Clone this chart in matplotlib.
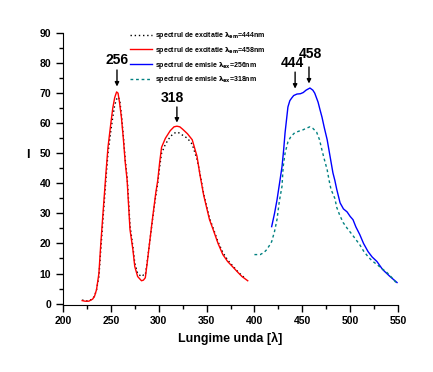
import matplotlib
matplotlib.use("Agg")
import matplotlib.pyplot as plt
from matplotlib.ticker import MultipleLocator

plt.rcParams['font.family'] = ['Liberation Sans', 'DejaVu Sans']
plt.rcParams['font.weight'] = 'bold'
plt.rcParams['mathtext.default'] = 'bf'

# excitation spectrum, lambda_em = 458 nm (red)
x_exc458 = [220, 223, 227, 231, 233, 235, 237.5, 239.5, 242, 245, 247, 250, 252, 254,
            256, 257.5, 259, 261, 263, 265, 267, 268, 270, 273, 275, 278, 282, 284,
            286, 288, 290, 293, 295, 297, 299, 301, 303, 307, 312, 316, 319, 322,
            325, 330, 335, 340, 343, 347, 350, 353, 357, 362, 367, 372, 378, 383,
            387, 393]
y_exc458 = [1.0, 0.8, 0.8, 1.5, 2.5, 4.6, 10, 20, 31, 44, 52, 60, 65, 68.5,
            70.4, 70, 67, 62, 55, 47, 41, 35.5, 24.6, 18, 12.3, 9, 7.6, 7.8,
            8.6, 13.6, 19, 27, 32, 37, 41, 47, 52, 55, 57.5, 58.8, 59, 58.8,
            58, 56.5, 54.5, 49, 43, 36, 32, 28, 24.5, 20, 16.3, 14, 12, 10.3,
            9, 7.6]

# excitation spectrum, lambda_em = 444 nm (black dotted)
x_exc444 = [220, 223, 227, 231, 233, 235, 237.5, 239.5, 242, 245, 247, 250, 252, 254,
            256, 258, 259.5, 261, 263, 265, 267, 268, 270, 273, 275, 278, 282, 284,
            286, 288, 290, 293, 295, 297, 299, 301, 303, 307, 312, 316, 320, 325,
            330, 335, 340, 343, 347, 350, 353, 357, 362, 367, 372, 378, 383, 387,
            390]
y_exc444 = [1.2, 0.9, 0.9, 1.6, 2.6, 4.5, 9, 18, 29, 42, 50, 57.5, 62, 66,
            68, 68.7, 67, 63, 56, 48, 42, 37, 26, 19, 13.5, 10, 9, 9.5,
            9.5, 14, 19, 26.5, 31.5, 36, 40, 45.5, 50, 53, 55.5, 56.7, 57, 56,
            55, 53, 48, 43.5, 36.5, 32.5, 28.5, 25, 20.5, 17, 14.5, 12.3, 10.5, 9.3,
            8.5]

# emission spectrum, lambda_ex = 256 nm (blue)
x_em256 = [418, 421, 423.6, 426.7, 428.8, 430.5, 432, 435, 437, 439, 441, 444.5, 448,
           451, 454, 458, 461, 463, 466.5, 468.5, 470.6, 473, 476, 479, 482, 484,
           486, 489.5, 493, 496.8, 500, 503, 506, 510, 514, 518.7, 523, 528, 534,
           541.7, 549]
y_em256 = [25.6, 30, 34.5, 41, 45.5, 51, 56.8, 65.4, 67.5, 68.4, 69.2, 69.7, 69.8,
           70.2, 71, 71.7, 71, 70, 67, 64.5, 62, 58.5, 54.5, 49, 43.5, 41,
           38, 33.5, 31.5, 30.5, 29, 27.9, 25.5, 23, 20, 17.3, 15.5, 14, 11.3,
           9, 7]

# emission spectrum, lambda_ex = 318 nm (teal dotted)
x_em318 = [400, 403, 406, 410, 413, 416, 418, 421, 423.6, 426, 428.8, 430, 432, 435,
           438, 442, 446, 450.8, 454, 458, 461, 465, 468, 470.6, 473, 476, 478,
           480, 484, 486, 489, 492.6, 497, 502, 506, 510, 514, 518.7, 523, 528,
           533, 538.6, 544, 549]
y_em318 = [16.3, 16.3, 16.3, 17, 18, 19.5, 20.6, 24, 28, 34, 39, 45.5, 50, 53.8,
           55.5, 56.8, 57.3, 57.8, 58.3, 58.8, 58.3, 57, 54.5, 51, 48, 44.5, 41,
           38, 35, 32, 29.5, 27, 25, 23, 21.3, 19.6, 17.5, 15.6, 14.2, 13,
           11.7, 10.3, 8.5, 6.6]

labels = [r'spectrul de excitatie $\lambda_{em}$=444nm',
          r'spectrul de excitatie $\lambda_{em}$=458nm',
          r'spectrul de emisie $\lambda_{ex}$=256nm',
          r'spectrul de emisie $\lambda_{ex}$=318nm']

# peak labels: text, text position, arrow x, arrow tail y, arrow tip y
peaks = [('256', 256.5, 81, 256.4, 77.7, 72.2),
         ('318', 314.5, 68.4, 319, 65.4, 60.2),
         ('444', 440, 80, 442.5, 77, 71.5),
         ('458', 458, 83, 457, 78.7, 73.2)]

fig = plt.figure(figsize=(4.33, 3.72), dpi=100)
ax = fig.add_axes([63/433, 1-304.5/372, 335/433, 271.5/372])

ax.plot(x_exc444, y_exc444, color='black', ls=(0, (1, 2)), lw=1, label=labels[0])
ax.plot(x_exc458, y_exc458, color='#ff0000', lw=1, label=labels[1])
ax.plot(x_em256, y_em256, color='#0000ff', lw=1, label=labels[2])
ax.plot(x_em318, y_em318, color='#008080', ls=(0, (2, 2)), lw=1, label=labels[3])

for txt, tx, ty, axx, yt, yh in peaks:
    ax.text(tx, ty, txt, ha='center', va='center', fontsize=10, fontweight='bold')
    ax.annotate('', xy=(axx, yh), xytext=(axx, yt),
                arrowprops=dict(arrowstyle='-|>', color='black', lw=1,
                                mutation_scale=6, shrinkA=0, shrinkB=0))

ax.set_xlim(200, 550)
ax.set_ylim(-0.3, 90)
ax.xaxis.set_major_locator(MultipleLocator(50))
ax.xaxis.set_minor_locator(MultipleLocator(25))
ax.yaxis.set_major_locator(MultipleLocator(10))
ax.yaxis.set_minor_locator(MultipleLocator(5))
ax.tick_params(which='major', direction='out', length=5, width=1, labelsize=7.5)
ax.tick_params(which='minor', direction='out', length=3, width=1)
for lab in ax.get_xticklabels() + ax.get_yticklabels():
    lab.set_fontweight('bold')
ax.spines['top'].set_visible(False)
ax.spines['right'].set_visible(False)

ax.set_xlabel('Lungime unda [λ]', fontsize=9, fontweight='bold', labelpad=4)
ax.set_ylabel('I', fontsize=9, fontweight='bold', rotation=0)
ax.yaxis.set_label_coords(-0.105, 0.53)

fig.legend(loc='upper left', bbox_to_anchor=(130/433, 1-30/372), frameon=False,
           fontsize=5, handlelength=3.2, handletextpad=0.4, labelspacing=0.55,
           borderaxespad=0, borderpad=0)

fig.savefig('out.png', dpi=100)
